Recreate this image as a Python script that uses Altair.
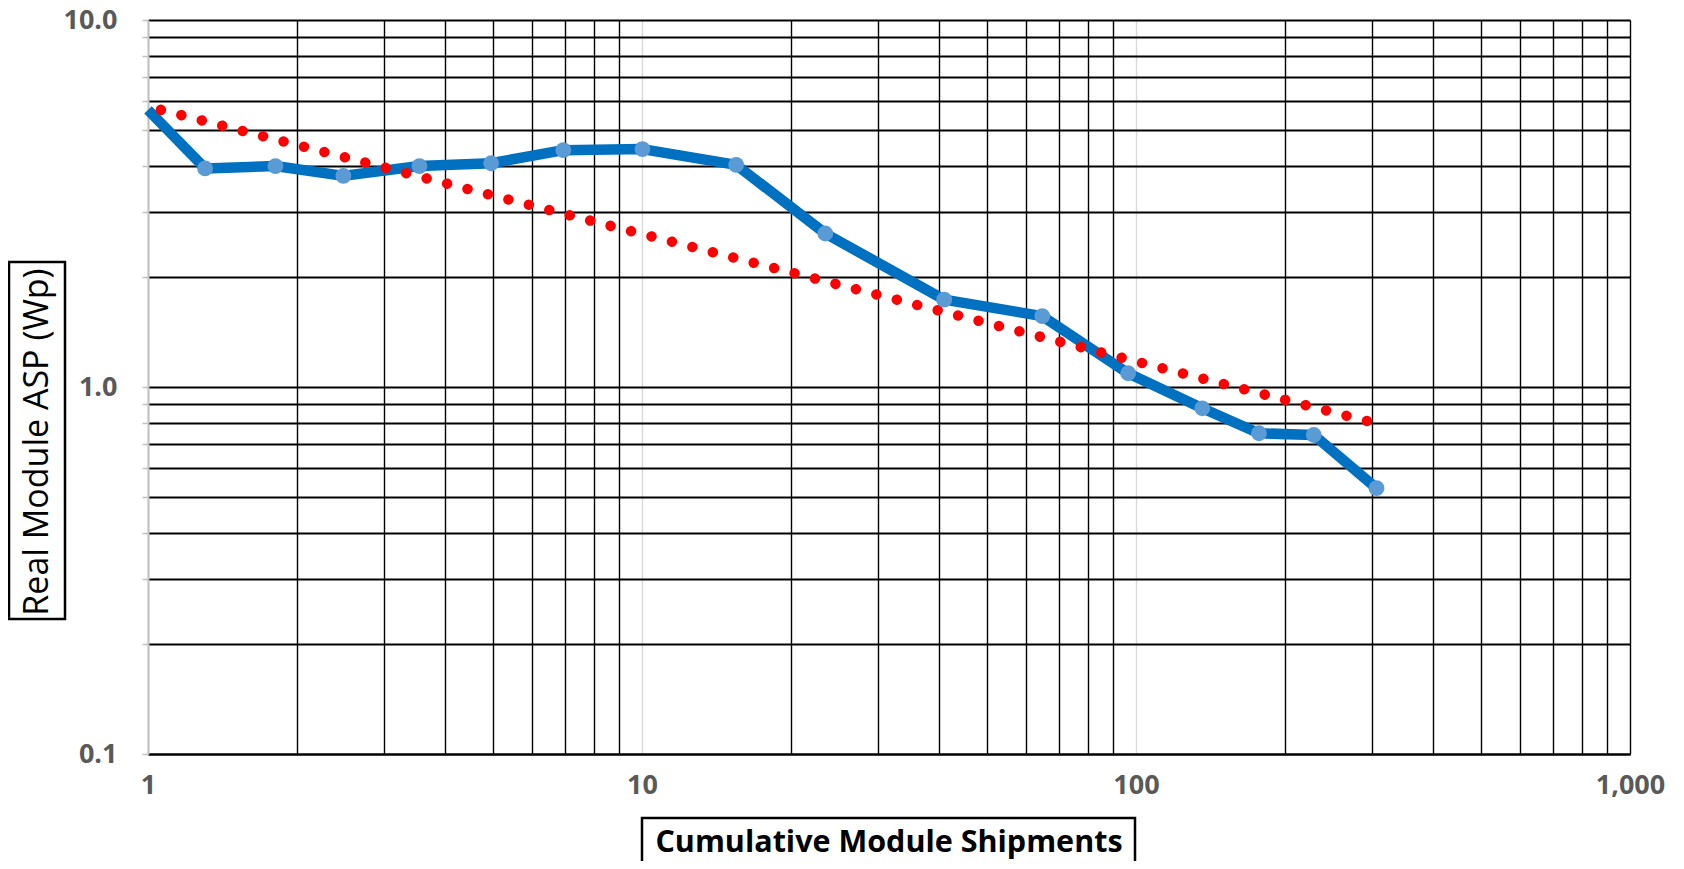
import altair as alt
import pandas as pd

# Real module ASP vs cumulative module shipments (log-log)
shipments = [1.0, 1.305, 1.811, 2.486, 3.544, 4.95, 6.93, 10.02, 15.51, 23.5,
             40.9, 64.6, 96.4, 136.2, 177.4, 229.0, 306.8]
asp = [5.69, 3.94, 4.00, 3.76, 4.00, 4.07, 4.42, 4.45, 4.03, 2.62,
       1.73, 1.56, 1.09, 0.875, 0.748, 0.740, 0.530]

trend_x = [1.062, 303.0]
trend_y = [5.69, 0.799]

x_ticks = [1, 2, 3, 4, 5, 6, 7, 8, 9,
           10, 20, 30, 40, 50, 60, 70, 80, 90,
           100, 200, 300, 400, 500, 600, 700, 800, 900, 1000]
y_ticks = [0.1, 0.2, 0.3, 0.4, 0.5, 0.6, 0.7, 0.8, 0.9,
           1, 2, 3, 4, 5, 6, 7, 8, 9, 10]
x_label_values = [1, 10, 100, 1000]
y_label_values = [0.1, 1, 10]
grey_x_grid = [1, 10, 100]

x_title = "Cumulative Module Shipments"
y_title = "Real Module ASP (Wp)"

W, H = 1482, 734
FONT = "Open Sans"

df = pd.DataFrame({"ship": shipments, "asp": asp})
tdf = pd.DataFrame({"ship": trend_x, "asp": trend_y})
one = pd.DataFrame({"k": [0]})

xscale = alt.Scale(type="log", domain=[1, 1000], nice=False)
yscale = alt.Scale(type="log", domain=[0.1, 10], nice=False)

xl = ",".join(str(v) for v in x_label_values)
yl = ",".join(str(v) for v in y_label_values)
gx = ",".join(str(v) for v in grey_x_grid)

x_axis = alt.Axis(
    values=x_ticks, title=None, grid=True,
    gridColor={"condition": {"test": f"indexof([{gx}], datum.value) >= 0", "value": "#D9D9D9"},
               "value": "#000000"},
    gridWidth=1.4, ticks=False, domain=True, domainColor="#000000", domainWidth=2,
    labelExpr=f"indexof([{xl}], datum.value) >= 0 ? format(datum.value, ',') : ''",
    labelFont=FONT, labelFontSize=27, labelFontWeight="bold", labelColor="#595959",
    labelPadding=31, labelBaseline="middle", labelFlush=False, labelOverlap=False,
)
y_axis = alt.Axis(
    values=y_ticks, title=None, grid=True, gridColor="#000000", gridWidth=1.8,
    ticks=True, tickSize=6, tickColor="#BFBFBF", tickWidth=1.5,
    domain=True, domainColor="#BFBFBF", domainWidth=2,
    labelExpr=f"indexof([{yl}], datum.value) >= 0 ? format(datum.value, '.1f') : ''",
    labelFont=FONT, labelFontSize=27, labelFontWeight="bold", labelColor="#595959",
    labelPadding=25, labelBaseline="middle", labelFlush=False, labelOverlap=False,
)

base = alt.Chart(df)

line = base.mark_line(color="#0070C0", strokeWidth=10.5, strokeJoin="round").encode(
    x=alt.X("ship:Q", scale=xscale, axis=x_axis),
    y=alt.Y("asp:Q", scale=yscale, axis=y_axis),
    order="ship:Q",
)

pts = base.transform_filter("datum.ship > 1").mark_circle(
    color="#5B9BD5", size=250, opacity=1
).encode(
    x=alt.X("ship:Q", scale=xscale),
    y=alt.Y("asp:Q", scale=yscale),
)

trend = alt.Chart(tdf).mark_line(
    color="#FF0000", strokeWidth=10.5, strokeDash=[0.01, 21.1], strokeCap="round"
).encode(
    x=alt.X("ship:Q", scale=xscale),
    y=alt.Y("asp:Q", scale=yscale),
)

ybox = alt.Chart(one).mark_rect(fill="white", fillOpacity=0, stroke="#000000", strokeWidth=2.5).encode(
    x=alt.value(-139), x2=alt.value(-83), y=alt.value(242), y2=alt.value(599)
)
ytext = alt.Chart(one).mark_text(
    text=y_title, angle=270, font=FONT, fontSize=34, color="#000000",
    align="center", baseline="alphabetic"
).encode(x=alt.value(-100), y=alt.value(422))

xbox = alt.Chart(one).mark_rect(fill="white", fillOpacity=0, stroke="#000000", strokeWidth=2.5).encode(
    x=alt.value(494), x2=alt.value(987), y=alt.value(798), y2=alt.value(860)
)
xtext = alt.Chart(one).mark_text(
    text=x_title, font=FONT, fontSize=30.5, fontWeight="bold", color="#000000",
    align="center", baseline="alphabetic"
).encode(x=alt.value(741), y=alt.value(832))

chart = alt.layer(line, trend, pts, ybox, ytext, xbox, xtext).properties(
    width=W, height=H,
    autosize=alt.AutoSizeParams(type="none"),
    padding={"left": 140, "top": 12, "right": 46, "bottom": 107},
    background="white",
).configure_view(stroke=None)

chart.save("out.html", embed_options={"renderer": "svg", "actions": False})
